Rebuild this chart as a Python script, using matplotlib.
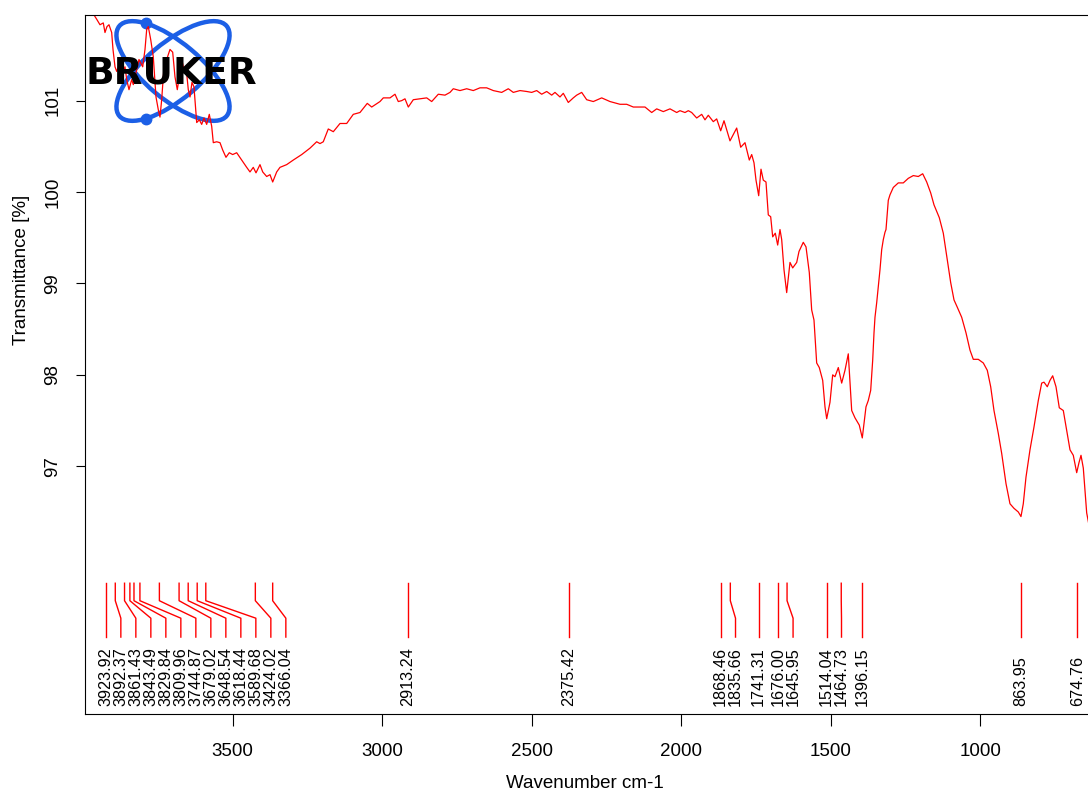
import numpy as np
import matplotlib
matplotlib.use("Agg")
import matplotlib.pyplot as plt
from matplotlib.patches import Ellipse

plt.rcParams['font.family'] = ['Liberation Sans', 'DejaVu Sans']

# spectrum (wavenumber cm-1, transmittance %)
wn = [3997, 3966, 3954.5, 3943.5, 3932.5, 3926.8, 3920.1, 3913.4, 3904.4, 3900.0,
      3893.3, 3887.7, 3879.0, 3870.9, 3859.9, 3854.2, 3846.5, 3837.5, 3832.1, 3820.8,
      3813.1, 3800.7, 3793.0, 3787.3, 3782.0, 3774.0, 3765.3, 3756.2, 3748.5, 3742.9,
      3737.2, 3729.5, 3720.5, 3709.4, 3700.4, 3692.7, 3685.0, 3678.3, 3670.3, 3662.6,
      3655.9, 3648.2, 3642.5, 3635.9, 3629.2, 3620.1, 3611.4, 3603.4, 3595.7, 3586.7,
      3578.0, 3570.0, 3564.6, 3553.3, 3542.2, 3533.2, 3522.2, 3511.1, 3499.8, 3486.4,
      3469.7, 3452.9, 3441.9, 3430.9, 3421.8, 3408.5, 3399.4, 3386.1, 3375.0, 3366.0,
      3352.6, 3341.6, 3319.2, 3297.1, 3269.0, 3241.3, 3218.9, 3207.8, 3196.8, 3180.1,
      3163.3, 3140.9, 3118.5, 3096.5, 3074.1, 3049.7, 3034.9, 3007.2, 2996.1, 2973.7,
      2957.0, 2946.0, 2934.6, 2923.6, 2912.5, 2895.8, 2873.4, 2851.0, 2834.3, 2812.2,
      2789.8, 2773.1, 2762.1, 2739.7, 2717.3, 2695.2, 2672.8, 2650.4, 2628.3, 2600.2,
      2578.1, 2561.4, 2539.0, 2516.6, 2499.9, 2483.2, 2466.5, 2449.7, 2433.0, 2422.0,
      2405.3, 2394.2, 2377.5, 2360.8, 2349.4, 2332.7, 2316.0, 2293.9, 2265.8, 2238.1,
      2204.6, 2182.2, 2160.1, 2137.7, 2121.0, 2098.6, 2081.9, 2059.8, 2037.4, 2015.0,
      2004.0, 1987.3, 1976.2, 1964.9, 1948.1, 1931.4, 1920.4, 1909.3, 1892.6, 1881.3,
      1867.9, 1856.8, 1836.8, 1825.7, 1814.4, 1801.0, 1786.6, 1772.2, 1764.2, 1756.5,
      1749.8, 1740.8, 1733.1, 1725.4, 1716.4, 1708.7, 1700.7, 1694.0, 1685.3, 1677.3,
      1669.6, 1663.9, 1656.2, 1647.2, 1636.1, 1627.1, 1613.7, 1606.0, 1591.7, 1582.6,
      1571.6, 1563.6, 1555.9, 1546.9, 1538.2, 1526.8, 1519.1, 1513.4, 1502.4, 1493.4,
      1485.7, 1474.6, 1463.3, 1452.2, 1441.2, 1429.8, 1418.8, 1404.4, 1394.4, 1382.0,
      1374.3, 1366.3, 1359.6, 1355.2, 1351.9, 1346.2, 1340.9, 1335.2, 1329.5, 1324.1,
      1318.5, 1315.1, 1310.7, 1307.4, 1301.7, 1290.7, 1274.0, 1257.3, 1240.5, 1223.8,
      1207.1, 1192.4, 1179.0, 1165.6, 1154.6, 1136.9, 1123.5, 1110.1, 1098.8, 1087.7,
      1076.7, 1062.0, 1047.6, 1034.2, 1023.2, 1006.5, 989.7, 976.4, 965.0, 954.0,
      939.6, 928.2, 913.8, 900.5, 887.1, 872.7, 863.7, 856.0, 847.0, 833.6,
      820.2, 805.8, 794.5, 786.8, 775.7, 766.7, 757.7, 746.6, 735.6, 722.2,
      710.9, 699.8, 688.8, 677.4, 669.7, 663.0, 655.3, 644.0, 633.0]
tr = [102.0, 101.95, 101.89, 101.83, 101.85, 101.745, 101.81, 101.83, 101.745, 101.56,
      101.37, 101.32, 101.395, 101.26, 101.37, 101.23, 101.12, 101.23, 101.175, 101.34,
      101.45, 101.37, 101.56, 101.78, 101.81, 101.67, 101.48, 101.04, 100.90, 100.82,
      101.01, 101.37, 101.45, 101.56, 101.53, 101.26, 101.12, 101.26, 101.45, 101.34,
      101.37, 101.12, 101.04, 101.20, 101.15, 100.76, 100.79, 100.74, 100.81, 100.74,
      100.85, 100.72, 100.54, 100.55, 100.54, 100.46, 100.38, 100.43, 100.41, 100.43,
      100.35, 100.27, 100.22, 100.27, 100.21, 100.30, 100.22, 100.17, 100.19, 100.11,
      100.22, 100.27, 100.30, 100.35, 100.41, 100.48, 100.55, 100.53, 100.55, 100.69,
      100.66, 100.75, 100.75, 100.85, 100.87, 100.97, 100.93, 100.99, 101.03, 101.03,
      101.07, 100.99, 101.00, 101.02, 100.93, 101.01, 101.02, 101.03, 100.99, 101.07,
      101.06, 101.09, 101.13, 101.11, 101.13, 101.11, 101.14, 101.14, 101.11, 101.09,
      101.13, 101.09, 101.11, 101.10, 101.09, 101.11, 101.07, 101.10, 101.06, 101.09,
      101.04, 101.08, 100.98, 101.03, 101.06, 101.09, 101.01, 100.99, 101.03, 100.99,
      100.96, 100.96, 100.93, 100.93, 100.93, 100.87, 100.91, 100.88, 100.91, 100.87,
      100.89, 100.87, 100.89, 100.87, 100.81, 100.85, 100.79, 100.84, 100.77, 100.80,
      100.67, 100.78, 100.56, 100.63, 100.70, 100.49, 100.54, 100.35, 100.41, 100.32,
      100.13, 99.96, 100.25, 100.13, 100.11, 99.75, 99.73, 99.51, 99.55, 99.42,
      99.59, 99.48, 99.15, 98.90, 99.23, 99.17, 99.23, 99.35, 99.45, 99.40,
      99.12, 98.71, 98.60, 98.13, 98.08, 97.94, 97.65, 97.52, 97.70, 98.00,
      97.98, 98.08, 97.91, 98.05, 98.23, 97.61, 97.53, 97.45, 97.31, 97.65,
      97.72, 97.83, 98.16, 98.46, 98.63, 98.79, 98.96, 99.15, 99.37, 99.48,
      99.56, 99.59, 99.77, 99.91, 99.97, 100.05, 100.10, 100.10, 100.15, 100.18,
      100.17, 100.20, 100.11, 99.99, 99.86, 99.72, 99.55, 99.26, 99.01, 98.82,
      98.74, 98.63, 98.46, 98.27, 98.17, 98.17, 98.13, 98.05, 97.87, 97.61,
      97.36, 97.14, 96.81, 96.59, 96.54, 96.50, 96.45, 96.59, 96.88, 97.18,
      97.43, 97.72, 97.91, 97.92, 97.87, 97.94, 97.99, 97.87, 97.64, 97.61,
      97.39, 97.18, 97.12, 96.93, 97.04, 97.12, 96.98, 96.49, 96.30]

peaks = [3923.92, 3892.37, 3861.43, 3843.49, 3829.84, 3809.96, 3744.87, 3679.02,
         3648.54, 3618.44, 3589.68, 3424.02, 3366.04, 2913.24, 2375.42, 1868.46,
         1835.66, 1741.31, 1676.00, 1645.95, 1514.04, 1464.73, 1396.15, 863.95, 674.76]

xticks = [3500, 3000, 2500, 2000, 1500, 1000]
yticks = [97, 98, 99, 100, 101]

W, H = 1088, 793
fig = plt.figure(figsize=(W / 100, H / 100), dpi=100)

# bruker logo orbits, drawn in pixel coords under the spectrum
lg = fig.add_axes([0, 0, 1, 1], zorder=0)
lg.set_xlim(0, W)
lg.set_ylim(H, 0)
lg.axis('off')
blue = '#1c5fe6'
cx, cy, a, b, ang = 173, 71, 70, 28, 40
t = np.linspace(0, 2 * np.pi, 721)
for s, target in ((1, (145, 25)), (-1, (145, 117))):
    lg.add_patch(Ellipse((cx, cy), 2 * a, 2 * b, angle=s * ang, fill=False, ec=blue, lw=3.2))
    th = np.radians(s * ang)
    ex = cx + a * np.cos(t) * np.cos(th) - b * np.sin(t) * np.sin(th)
    ey = cy + a * np.cos(t) * np.sin(th) + b * np.sin(t) * np.cos(th)
    k = np.argmin((ex - target[0]) ** 2 + (ey - target[1]) ** 2)
    lg.plot(ex[k], ey[k], 'o', ms=7.5, color=blue)

ax = fig.add_axes([84.5 / W, (H - 714) / H, (W - 84.5) / W, (714 - 14.7) / H], zorder=1)
ax.patch.set_alpha(0)
ax.plot(wn, tr, color='red', lw=0.9)
ax.set_xlim(3995.3, 639.6)
ax.set_ylim(94.29, 101.94)

# logo word sits on top of the trace
fig.text(171 / W, 1 - 83 / H, 'BRUKER', ha='center', va='baseline', fontsize=27,
         fontweight='heavy', family='DejaVu Sans', color='black', zorder=5)

# peak pick markers, labels pushed apart so they don't overlap
tf = ax.get_xaxis_transform()
sep = 15 / (W - 84.5) * (3995.3 - 639.6)
pos = []
for p in peaks:
    pos.append(p if not pos else min(p, pos[-1] - sep))
for p, q in zip(peaks, pos):
    ax.plot([p, p, q, q], [0.187, 0.162, 0.137, 0.110], color='red', lw=1.0,
            transform=tf, clip_on=False)
    ax.text(q, 0.0114, f'{p:.2f}', rotation=90, ha='center', va='bottom',
            fontsize=11.7, transform=tf)

ax.set_xticks(xticks)
ax.set_yticks(yticks)
ax.set_yticklabels([str(v) for v in yticks], rotation=90, va='center')
ax.tick_params(axis='x', length=8.6, width=0.8, pad=12, labelsize=13.5)
ax.tick_params(axis='y', length=6.5, width=0.8, pad=10, labelsize=13.5)
ax.spines['right'].set_visible(False)
for sp in ax.spines.values():
    sp.set_linewidth(0.8)

ax.set_xlabel('Wavenumber cm-1', fontsize=13.5, va='center')
ax.xaxis.set_label_coords(0.4988, -0.0987)
ax.set_ylabel('Transmittance [%]', fontsize=13.5, va='center')
ax.yaxis.set_label_coords(-0.0623, 0.635)

fig.savefig('out.png', dpi=100)
